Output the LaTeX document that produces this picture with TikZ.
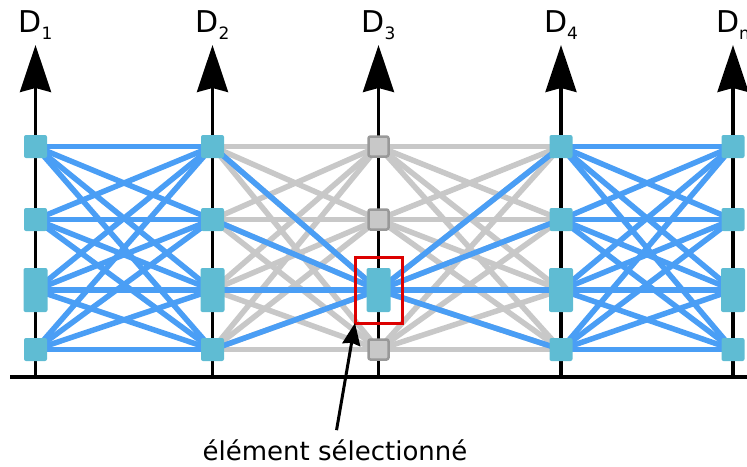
\documentclass[tikz,border=0pt]{standalone}
\usepackage{fontspec}
\setmainfont{DejaVu Sans}
\usepackage{xcolor}
\usepackage{tikz}
\usetikzlibrary{arrows.meta, backgrounds}
\definecolor{linkblue}{RGB}{74,158,245}
\definecolor{boxteal}{RGB}{95,188,211}
\definecolor{linkgray}{RGB}{200,200,200}
\definecolor{boxgray}{RGB}{200,200,200}
\definecolor{rimgray}{RGB}{153,153,153}
\definecolor{selred}{RGB}{220,0,0}
\newcommand{\axisfont}{\fontsize{30}{36}\selectfont}
\newcommand{\lowidx}[1]{\raisebox{-7pt}{\fontsize{17}{17}\selectfont #1}}

\begin{document}
\begin{tikzpicture}[x=1pt, y=-1pt,
  cell/.style={fill=boxteal, rounded corners=2pt, inner sep=0pt, minimum width=23pt, minimum height=23pt},
  tallcell/.style={cell, minimum width=24pt, minimum height=44pt},
  offcell/.style={cell, fill=boxgray, draw=rimgray, line width=2.5pt, minimum width=20pt, minimum height=20pt},
  bluelink/.style={draw=linkblue, line width=5.5pt},
  graylink/.style={draw=linkgray, line width=5.5pt},
  axis/.style={line width=3.3pt, -{Stealth[length=47pt, width=31pt, inset=4pt]}},
  pointer/.style={line width=3pt, -{Stealth[length=22pt, width=18pt, inset=2pt]}}]
  \clip (0,0) rectangle (747,466);

  %% columns: boxes, axis ends and labels
  \foreach \c/\x/\kind/\idx in {1/35.5/cell/1, 2/212.5/cell/2, 3/378.5/offcell/3, 4/561/cell/4, 5/733/cell/n} {
    \foreach \r/\y in {1/146.5, 2/219.5, 4/349.5}
      \node[\kind] (n\c\r) at (\x,\y) {};
    \node[tallcell] (n\c3) at (\x,290) {};
    \coordinate (foot\c) at (\x,377);
    \coordinate (tip\c) at (\x,45);
    \node[anchor=base, font=\axisfont, inner sep=0pt] (lab\c) at (\x,32) {D\lowidx{\idx}};
  }

  \begin{scope}[on background layer]
    %% axes
    \draw[line width=3.3pt] (10,377) -- (747,377);
    \foreach \c in {1,...,5}
      \draw[axis] (foot\c) -- (tip\c);
    %% links
    \foreach \i in {1,...,4} \foreach \j in {1,...,4} {
      \draw[graylink] (n2\i.center) -- (n3\j.center);
      \draw[graylink] (n3\i.center) -- (n4\j.center);
    }
    \foreach \i in {1,...,4} \foreach \j in {1,...,4} {
      \draw[bluelink] (n1\i.center) -- (n2\j.center);
      \draw[bluelink] (n4\i.center) -- (n5\j.center);
    }
    \foreach \i in {1,...,4} {
      \draw[bluelink] (n2\i.center) -- (n33.center);
      \draw[bluelink] (n33.center) -- (n4\i.center);
    }
  \end{scope}

  %% selection
  \node[draw=selred, line width=3pt, outer sep=0pt, minimum width=47pt, minimum height=66pt] (pick) at (n33) {};
  \node[anchor=base, font=\fontsize{26}{31}\selectfont, inner sep=0pt] (note) at (335,460) {élément sélectionné};
  \draw[pointer, shorten <=9pt] (note.north) -- (pick.south west);
\end{tikzpicture}
\end{document}
